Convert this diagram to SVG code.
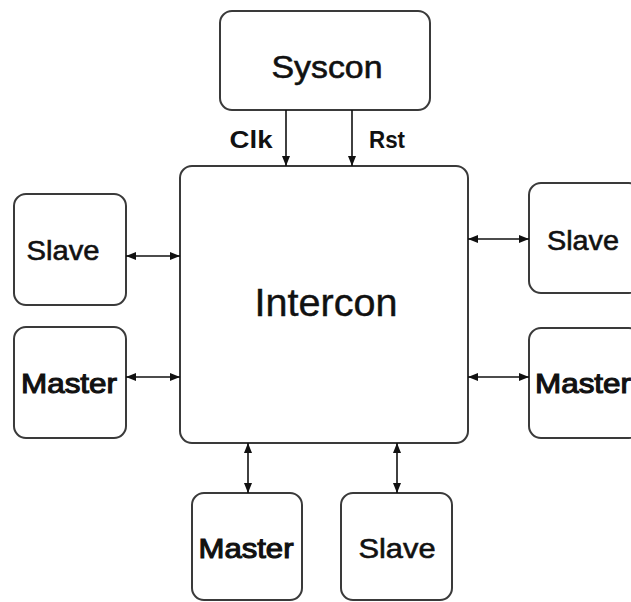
<svg xmlns="http://www.w3.org/2000/svg" width="631" height="602" viewBox="0 0 631 602">
  <style>
    .box { fill: #ffffff; stroke: #3a3a3a; stroke-width: 2; }
    .lbl { font-family: "Liberation Sans", Arial, sans-serif; fill: #111; text-anchor: middle; }
    .big { font-size: 38px; stroke: #111; stroke-width: 0.4; }
    .mid { font-size: 32px; stroke: #111; stroke-width: 0.6; }
    .node { font-size: 28px; stroke: #111; stroke-width: 0.6; }
    .heavy { stroke-width: 1.1; }
    .sig { font-size: 23px; font-weight: bold; }
    .wire { stroke: #111; stroke-width: 1.6; fill: none; }
  </style>
  <defs>
    <marker id="head" viewBox="0 0 10 8" refX="10" refY="4" markerWidth="10" markerHeight="8" markerUnits="userSpaceOnUse" orient="auto-start-reverse">
      <path d="M0,0 L10,4 L0,8 Z" fill="#111"/>
    </marker>
  </defs>
  <rect width="631" height="602" fill="#ffffff"/>

  <g id="syscon">
    <rect class="box" x="220" y="11" width="210" height="99" rx="12"/>
    <text class="lbl mid" x="327" y="78" textLength="111" lengthAdjust="spacingAndGlyphs">Syscon</text>
  </g>

  <g id="intercon">
    <rect class="box" x="180" y="166" width="288" height="277" rx="12"/>
    <text class="lbl big" x="326" y="316" textLength="143" lengthAdjust="spacingAndGlyphs">Intercon</text>
  </g>

  <g id="slave-left">
    <rect class="box" x="14" y="194" width="112" height="111" rx="12"/>
    <text class="lbl node" x="63" y="260" textLength="73" lengthAdjust="spacingAndGlyphs">Slave</text>
  </g>

  <g id="master-left">
    <rect class="box" x="14" y="327" width="112" height="111" rx="12"/>
    <text class="lbl node heavy" x="69" y="393" textLength="96" lengthAdjust="spacingAndGlyphs">Master</text>
  </g>

  <g id="slave-right">
    <rect class="box" x="529" y="183" width="112" height="110" rx="12"/>
    <text class="lbl node" x="583" y="250" textLength="72" lengthAdjust="spacingAndGlyphs">Slave</text>
  </g>

  <g id="master-right">
    <rect class="box" x="529" y="328" width="112" height="110" rx="12"/>
    <text class="lbl node heavy" x="583" y="393" textLength="96" lengthAdjust="spacingAndGlyphs">Master</text>
  </g>

  <g id="master-bottom">
    <rect class="box" x="192" y="493" width="110" height="107" rx="12"/>
    <text class="lbl node heavy" x="246" y="558" textLength="95" lengthAdjust="spacingAndGlyphs">Master</text>
  </g>

  <g id="slave-bottom">
    <rect class="box" x="341" y="493" width="111" height="107" rx="12"/>
    <text class="lbl node" x="397" y="558" textLength="77" lengthAdjust="spacingAndGlyphs">Slave</text>
  </g>

  <g id="connectors">
    <line class="wire" x1="286" y1="110" x2="286" y2="166" marker-end="url(#head)"/>
    <line class="wire" x1="352" y1="110" x2="352" y2="166" marker-end="url(#head)"/>
    <text class="lbl sig" x="251" y="148" textLength="43" lengthAdjust="spacingAndGlyphs">Clk</text>
    <text class="lbl sig" x="387" y="148" textLength="36" lengthAdjust="spacingAndGlyphs">Rst</text>

    <line class="wire" x1="126" y1="256" x2="180" y2="256" marker-start="url(#head)" marker-end="url(#head)"/>
    <line class="wire" x1="126" y1="377" x2="180" y2="377" marker-start="url(#head)" marker-end="url(#head)"/>
    <line class="wire" x1="468" y1="239" x2="529" y2="239" marker-start="url(#head)" marker-end="url(#head)"/>
    <line class="wire" x1="468" y1="377" x2="529" y2="377" marker-start="url(#head)" marker-end="url(#head)"/>
    <line class="wire" x1="248" y1="443" x2="248" y2="493" marker-start="url(#head)" marker-end="url(#head)"/>
    <line class="wire" x1="397" y1="443" x2="397" y2="493" marker-start="url(#head)" marker-end="url(#head)"/>
  </g>
</svg>
